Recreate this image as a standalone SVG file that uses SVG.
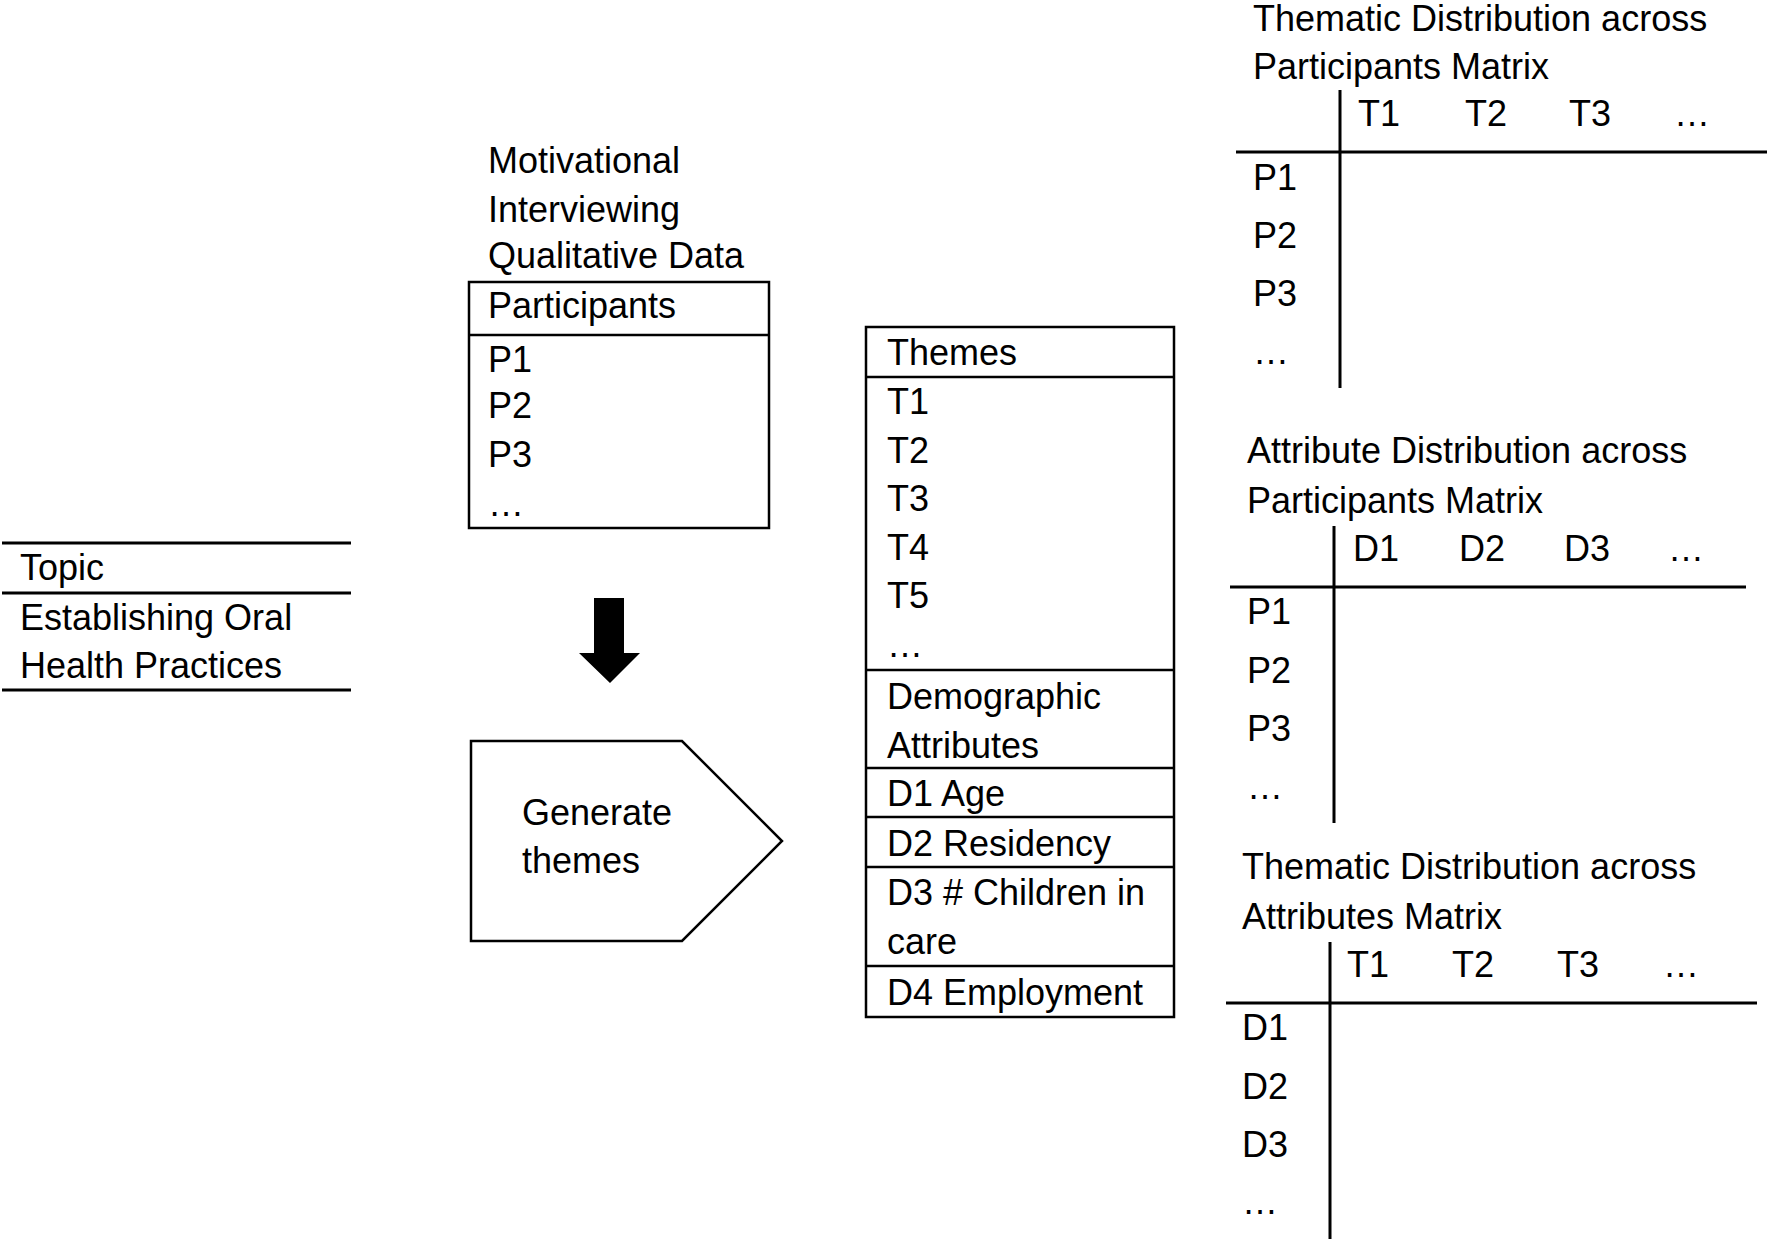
<svg xmlns="http://www.w3.org/2000/svg" width="1770" height="1243" viewBox="0 0 1770 1243">
<style>
text{font-family:"Liberation Sans",Arial,sans-serif;font-size:36px;fill:#000}
.m{text-anchor:middle}
.box{fill:#fff;stroke:#000;stroke-width:2.5}
.ln{stroke:#000;stroke-width:2.5;fill:none}
.ax{stroke:#000;stroke-width:3;fill:none}
</style>
<rect width="1770" height="1243" fill="#fff"/>
<g id="topic">
<line class="ax" x1="2" y1="543" x2="351" y2="543"/>
<line class="ax" x1="2" y1="593" x2="351" y2="593"/>
<line class="ax" x1="2" y1="690" x2="351" y2="690"/>
<text x="20" y="580">Topic</text>
<text x="20" y="630">Establishing Oral</text>
<text x="20" y="678">Health Practices</text>
</g>
<g id="mi-data">
<text x="488" y="173">Motivational</text>
<text x="488" y="222">Interviewing</text>
<text x="488" y="268">Qualitative Data</text>
<rect class="box" x="469" y="282" width="300" height="246"/>
<line class="ln" x1="469" y1="335" x2="769" y2="335"/>
<text x="488" y="318">Participants</text>
<text x="488" y="372">P1</text>
<text x="488" y="418">P2</text>
<text x="488" y="467">P3</text>
<text x="488" y="516">…</text>
</g>
<g id="connectors">
<polygon points="594,598 624,598 624,653 640,653 610,683 579,653 594,653" fill="#000"/>
</g>
<g id="generate">
<polygon class="box" points="471,741 682,741 782,841 682,941 471,941"/>
<text x="522" y="825">Generate</text>
<text x="522" y="873">themes</text>
</g>
<g id="themes">
<rect class="box" x="866" y="327" width="308" height="690"/>
<line class="ln" x1="866" y1="377" x2="1174" y2="377"/>
<line class="ln" x1="866" y1="670" x2="1174" y2="670"/>
<line class="ln" x1="866" y1="768" x2="1174" y2="768"/>
<line class="ln" x1="866" y1="817" x2="1174" y2="817"/>
<line class="ln" x1="866" y1="867" x2="1174" y2="867"/>
<line class="ln" x1="866" y1="966" x2="1174" y2="966"/>
<text x="887" y="365">Themes</text>
<text x="887" y="414">T1</text>
<text x="887" y="463">T2</text>
<text x="887" y="511">T3</text>
<text x="887" y="560">T4</text>
<text x="887" y="608">T5</text>
<text x="887" y="657">…</text>
<text x="887" y="709">Demographic</text>
<text x="887" y="758">Attributes</text>
<text x="887" y="806">D1 Age</text>
<text x="887" y="856">D2 Residency</text>
<text x="887" y="905">D3 # Children in</text>
<text x="887" y="954">care</text>
<text x="887" y="1005">D4 Employment</text>
</g>
<g id="matrix-themes-participants">
<text x="1253" y="31">Thematic Distribution across</text>
<text x="1253" y="79">Participants Matrix</text>
<line class="ax" x1="1340" y1="90" x2="1340" y2="388"/>
<line class="ax" x1="1236" y1="152" x2="1767" y2="152"/>
<text class="m" x="1379" y="126">T1</text>
<text class="m" x="1486" y="126">T2</text>
<text class="m" x="1590" y="126">T3</text>
<text class="m" x="1692" y="126">…</text>
<text x="1253" y="190">P1</text>
<text x="1253" y="248">P2</text>
<text x="1253" y="306">P3</text>
<text x="1253" y="364">…</text>
</g>
<g id="matrix-attributes-participants">
<text x="1247" y="463">Attribute Distribution across</text>
<text x="1247" y="513">Participants Matrix</text>
<line class="ax" x1="1334" y1="526" x2="1334" y2="823"/>
<line class="ax" x1="1230" y1="587" x2="1746" y2="587"/>
<text class="m" x="1376" y="561">D1</text>
<text class="m" x="1482" y="561">D2</text>
<text class="m" x="1587" y="561">D3</text>
<text class="m" x="1686" y="561">…</text>
<text x="1247" y="624">P1</text>
<text x="1247" y="683">P2</text>
<text x="1247" y="741">P3</text>
<text x="1247" y="799">…</text>
</g>
<g id="matrix-themes-attributes">
<text x="1242" y="879">Thematic Distribution across</text>
<text x="1242" y="929">Attributes Matrix</text>
<line class="ax" x1="1330" y1="942" x2="1330" y2="1239"/>
<line class="ax" x1="1226" y1="1003" x2="1757" y2="1003"/>
<text class="m" x="1368" y="977">T1</text>
<text class="m" x="1473" y="977">T2</text>
<text class="m" x="1578" y="977">T3</text>
<text class="m" x="1681" y="977">…</text>
<text x="1242" y="1040">D1</text>
<text x="1242" y="1099">D2</text>
<text x="1242" y="1157">D3</text>
<text x="1242" y="1214">…</text>
</g>
</svg>
